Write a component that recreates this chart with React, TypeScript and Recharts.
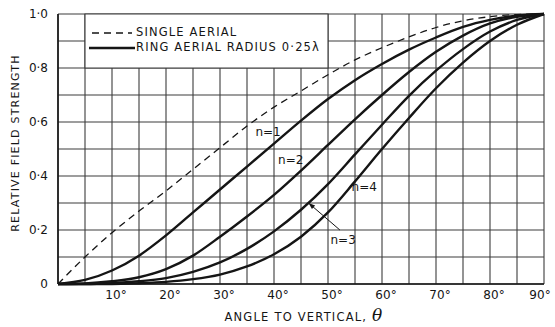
import { LineChart, Line, XAxis, YAxis, CartesianGrid, ReferenceArea, ReferenceDot, ReferenceLine } from 'recharts';

// angle to vertical, degrees
const angles = [0, 5, 10, 15, 20, 25, 30, 35, 40, 45, 50, 55, 60, 65, 70, 75, 80, 85, 90];

const singleAerial = [0, 0.1, 0.19, 0.27, 0.345, 0.425, 0.505, 0.585, 0.655, 0.715, 0.775, 0.83, 0.875, 0.915, 0.95, 0.975, 0.99, 0.998, 1.0];
const ringN1 = [0, 0.015, 0.05, 0.105, 0.18, 0.265, 0.35, 0.435, 0.52, 0.605, 0.685, 0.755, 0.815, 0.868, 0.913, 0.952, 0.978, 0.994, 1.0];
const ringN2 = [0, 0.002, 0.01, 0.025, 0.055, 0.105, 0.175, 0.25, 0.33, 0.42, 0.515, 0.61, 0.7, 0.785, 0.86, 0.92, 0.965, 0.99, 1.0];
const ringN3 = [0, 0, 0.003, 0.01, 0.022, 0.045, 0.08, 0.13, 0.195, 0.275, 0.37, 0.48, 0.59, 0.697, 0.79, 0.87, 0.935, 0.978, 1.0];
const ringN4 = [0, 0, 0, 0.003, 0.008, 0.018, 0.035, 0.065, 0.11, 0.175, 0.265, 0.38, 0.5, 0.615, 0.725, 0.82, 0.9, 0.96, 1.0];

const xTicks = [0, 5, 10, 15, 20, 25, 30, 35, 40, 45, 50, 55, 60, 65, 70, 75, 80, 85, 90];
const yTicks = [0, 0.1, 0.2, 0.3, 0.4, 0.5, 0.6, 0.7, 0.8, 0.9, 1.0];

const data = angles.map((a, i) => ({
  angle: a,
  single: singleAerial[i],
  n1: ringN1[i],
  n2: ringN2[i],
  n3: ringN3[i],
  n4: ringN4[i],
}));

const FONT = '"DejaVu Sans", sans-serif';
const INK = '#151515';
const GRID = '#3c3c3c';

function fmtY(v: number) {
  const t = Math.round(v * 10);
  if (t % 2 !== 0) return '';
  if (t === 0) return '0';
  return (t / 10).toFixed(1).replace('.', '·');
}

function XTick(props: any) {
  const { x, y, payload } = props;
  const v = payload.value;
  if (v <= 0 || v % 10 !== 0) return null;
  // last label sits against the page edge, nudge it in
  const dx = v === 90 ? -4 : 4;
  return (
    <text x={x + dx} y={y + 7} textAnchor="middle" fontFamily={FONT} fontSize={12} fill={INK}>
      {`${v}°`}
    </text>
  );
}

function curveLabel(text: string) {
  return (props: any) => (
    <text
      x={props.viewBox.x}
      y={props.viewBox.y}
      textAnchor="middle"
      dominantBaseline="central"
      fontFamily={FONT}
      fontSize={12}
      fill={INK}
    >
      {text}
    </text>
  );
}

function ArrowShape(props: any) {
  const { x1, y1, x2, y2 } = props;
  const ang = Math.atan2(y2 - y1, x2 - x1);
  const len = 7;
  const p1x = x2 - len * Math.cos(ang - 0.35);
  const p1y = y2 - len * Math.sin(ang - 0.35);
  const p2x = x2 - len * Math.cos(ang + 0.35);
  const p2y = y2 - len * Math.sin(ang + 0.35);
  return (
    <g>
      <line x1={x1} y1={y1} x2={x2} y2={y2} stroke={INK} strokeWidth={1} />
      <polygon points={`${x2},${y2} ${p1x},${p1y} ${p2x},${p2y}`} fill={INK} />
    </g>
  );
}

export default function App() {
  return (
    <div style={{ position: 'absolute', left: 0, top: 0, width: 555, height: 327, background: '#fff', overflow: 'hidden' }}>
      <LineChart
        width={555}
        height={327}
        data={data}
        margin={{ top: 14, right: 11, bottom: 13, left: 18 }}
      >
        <CartesianGrid stroke={GRID} strokeWidth={1.1} horizontalValues={yTicks} verticalValues={xTicks} />
        <XAxis
          type="number"
          dataKey="angle"
          domain={[0, 90]}
          ticks={xTicks}
          interval={0}
          tick={<XTick />}
          tickLine={false}
          axisLine={{ stroke: INK, strokeWidth: 1.6 }}
          height={30}
        />
        <YAxis
          type="number"
          domain={[0, 1]}
          ticks={yTicks}
          interval={0}
          tickFormatter={fmtY}
          tickLine={false}
          axisLine={{ stroke: INK, strokeWidth: 1.6 }}
          width={40}
          tick={{ fontFamily: FONT, fontSize: 12, fill: INK, dx: -2 }}
        />
        <ReferenceArea x1={5} x2={50} y1={0.8} y2={1.0} fill="#fff" fillOpacity={1} stroke={GRID} strokeWidth={1.1} ifOverflow="visible" />
        <Line type="monotone" dataKey="single" stroke={INK} strokeWidth={1.3} strokeDasharray="7 5" dot={false} isAnimationActive={false} />
        <Line type="monotone" dataKey="n1" stroke={INK} strokeWidth={2.4} dot={false} isAnimationActive={false} />
        <Line type="monotone" dataKey="n2" stroke={INK} strokeWidth={2.4} dot={false} isAnimationActive={false} />
        <Line type="monotone" dataKey="n3" stroke={INK} strokeWidth={2.4} dot={false} isAnimationActive={false} />
        <Line type="monotone" dataKey="n4" stroke={INK} strokeWidth={2.4} dot={false} isAnimationActive={false} />
        <ReferenceDot x={38.9} y={0.563} r={0} fill="none" stroke="none" label={curveLabel('n=1')} />
        <ReferenceDot x={43.1} y={0.459} r={0} fill="none" stroke="none" label={curveLabel('n=2')} />
        <ReferenceDot x={56.7} y={0.359} r={0} fill="none" stroke="none" label={curveLabel('n=4')} />
        <ReferenceDot x={52.8} y={0.163} r={0} fill="none" stroke="none" label={curveLabel('n=3')} />
        <ReferenceLine segment={[{ x: 52.2, y: 0.2 }, { x: 46.4, y: 0.3 }]} shape={ArrowShape} />
      </LineChart>

      {/* legend box in the top-left corner of the grid */}
      <div
        style={{
          position: 'absolute',
          left: 88,
          top: 25,
          fontFamily: FONT,
          fontSize: 11.5,
          color: INK,
          letterSpacing: '1.15px',
          lineHeight: '15px',
        }}
      >
        <div style={{ display: 'flex', alignItems: 'center' }}>
          <svg width={48} height={15}>
            <line x1={4} y1={8} x2={44} y2={8} stroke={INK} strokeWidth={1.3} strokeDasharray="7 5" />
          </svg>
          <span>SINGLE AERIAL</span>
        </div>
        <div style={{ display: 'flex', alignItems: 'center' }}>
          <svg width={48} height={15}>
            <line x1={1} y1={8} x2={47} y2={8} stroke={INK} strokeWidth={2.6} />
          </svg>
          <span>RING AERIAL RADIUS 0·25λ</span>
        </div>
      </div>

      <div
        style={{
          position: 'absolute',
          left: 15,
          top: 143,
          transform: 'translate(-50%, -50%) rotate(-90deg)',
          whiteSpace: 'nowrap',
          fontFamily: FONT,
          fontSize: 11,
          letterSpacing: '1.2px',
          color: INK,
        }}
      >
        RELATIVE FIELD STRENGTH
      </div>
      <div
        style={{
          position: 'absolute',
          left: 304,
          top: 315,
          transform: 'translate(-50%, -50%)',
          whiteSpace: 'nowrap',
          fontFamily: FONT,
          fontSize: 11.5,
          letterSpacing: '1.2px',
          color: INK,
        }}
      >
        ANGLE TO VERTICAL, <span style={{ fontStyle: 'italic', fontSize: 17, fontFamily: '"DejaVu Serif", serif' }}>θ</span>
      </div>
    </div>
  );
}
